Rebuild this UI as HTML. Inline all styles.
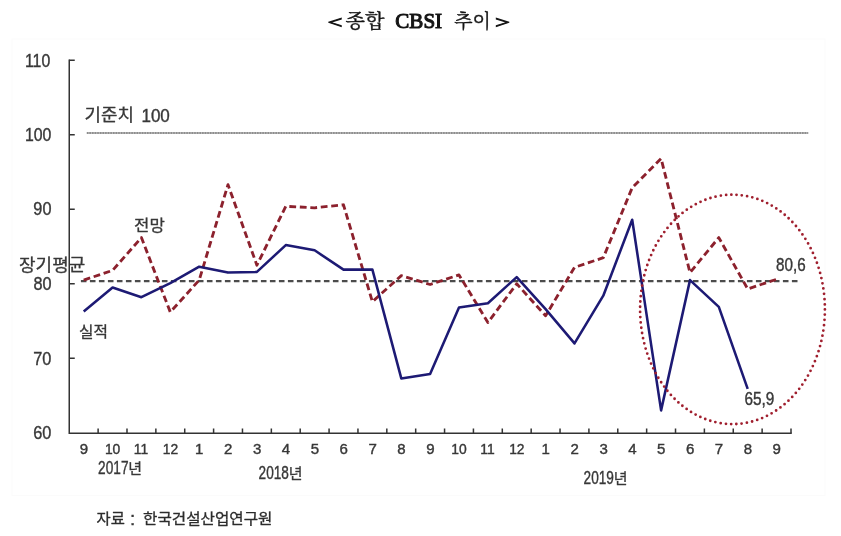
<!DOCTYPE html>
<html lang="ko"><head><meta charset="utf-8"><title>종합 CBSI 추이</title>
<style>html,body{margin:0;padding:0;background:#fff}body{width:841px;height:536px;overflow:hidden;font-family:"Liberation Sans",sans-serif}svg{display:block}text{font-family:"Liberation Sans",sans-serif;fill:#383838;stroke:#383838;stroke-width:.4}.ser{font-family:"Liberation Serif",serif;fill:#151515;stroke:#151515;stroke-width:1.1}.ser2{font-family:"Liberation Serif",serif;fill:#151515;stroke:#151515;stroke-width:1}.k{font-family:"Liberation Sans","Noto Sans CJK KR",sans-serif;fill:#383838;stroke:#383838;stroke-width:.3;stroke-linejoin:round}.ks{font-family:"Liberation Sans","Noto Sans CJK KR",sans-serif;fill:#2c2c2c;stroke:#2c2c2c;stroke-width:.3;stroke-linejoin:round}.kt{font-family:"Liberation Serif","Noto Serif CJK SC","Noto Sans CJK KR",serif;fill:#151515;stroke:#151515;stroke-width:.4;stroke-linejoin:round}</style></head><body>
<svg width="841" height="536" viewBox="0 0 841 536" role="img" aria-label="종합 CBSI 추이">
<defs><filter id="soft" x="0" y="0" width="100%" height="100%" filterUnits="userSpaceOnUse" color-interpolation-filters="sRGB"><feGaussianBlur stdDeviation="0.6"/></filter></defs>
<rect width="841" height="536" fill="#ffffff"/>
<g filter="url(#soft)">
<rect width="841" height="536" fill="#ffffff"/>
<rect x="12" y="39" width="813" height="456.5" fill="#ffffff" stroke="#fbfbfb" stroke-width="1"/>
<g id="title">
<text class="ser2" transform="translate(327.72,27.52) scale(1.536,1)" font-size="16.79">&lt;</text>
<g><text class="kt" x="345.5" y="28" font-size="19.5" textLength="39" lengthAdjust="spacingAndGlyphs">종합</text></g>
<text class="ser" transform="translate(395.34,28.29) scale(0.962,1)" font-size="21.88">CBSI</text>
<g><text class="kt" x="454.2" y="28" font-size="19" textLength="36.7" lengthAdjust="spacingAndGlyphs">추이</text></g>
<text class="ser2" transform="translate(495.19,27.52) scale(1.536,1)" font-size="16.79">&gt;</text>
</g>
<g stroke="#333333" stroke-width="1.5" fill="none">
<path d="M69.25 59.55V433.20H791.75"/>
<path d="M69.25 60.30h5.5M69.25 134.80h5.5M69.25 209.30h5.5M69.25 283.80h5.5M69.25 358.30h5.5M98.12 433.20v-4.6M126.99 433.20v-4.6M155.86 433.20v-4.6M184.73 433.20v-4.6M213.60 433.20v-4.6M242.47 433.20v-4.6M271.34 433.20v-4.6M300.21 433.20v-4.6M329.08 433.20v-4.6M357.95 433.20v-4.6M386.82 433.20v-4.6M415.69 433.20v-4.6M444.56 433.20v-4.6M473.43 433.20v-4.6M502.30 433.20v-4.6M531.17 433.20v-4.6M560.04 433.20v-4.6M588.91 433.20v-4.6M617.78 433.20v-4.6M646.65 433.20v-4.6M675.52 433.20v-4.6M704.39 433.20v-4.6M733.26 433.20v-4.6M762.13 433.20v-4.6M791.00 433.20v-4.6"/>
</g>
<line x1="86.8" y1="133" x2="808.2" y2="133" stroke="#a2a2a2" stroke-width="1.7"/>
<line x1="86.8" y1="133" x2="808.2" y2="133" stroke="#6a6a6a" stroke-opacity=".55" stroke-width="1.8" stroke-dasharray="1.5 1.12"/>
<line x1="80.9" y1="281.2" x2="797.5" y2="281.2" stroke="#4c4c4c" stroke-width="2.3" stroke-dasharray="5.6 3.4"/>
<polyline points="83.7,280.1 112.6,270.4 141.4,237.6 170.3,312.1 199.2,280.1 228,184.7 256.9,265.2 285.8,206.3 314.6,207.8 343.5,204.8 372.4,301.7 401.3,275.6 430.1,284.5 459,274.9 487.9,322.5 516.7,283.8 545.6,315.8 574.5,267.4 603.3,257.7 632.2,187.7 661.1,158.6 690,272.6 718.8,237.6 747.7,289 776.6,279.3" fill="none" stroke="#8c212d" stroke-width="2.85" stroke-dasharray="6.8 3.7" stroke-linejoin="round"/>
<polyline points="83.7,311.4 112.6,287.5 141.4,297.2 170.3,283.1 199.2,266.7 228,272.6 256.9,271.9 285.8,245.1 314.6,250.3 343.5,269.6 372.4,269.6 401.3,378.4 430.1,373.9 459,307.6 487.9,303.2 516.7,277.1 545.6,309.1 574.5,343.4 603.3,295.7 632.2,219.7 661.1,410.4 690,280.1 718.8,306.9 747.7,388.8" fill="none" stroke="#1d1a74" stroke-width="2.55" stroke-linejoin="round"/>
<ellipse cx="732.5" cy="309.4" rx="92.4" ry="114.7" fill="none" stroke="#a01f2e" stroke-width="2.8" stroke-dasharray="0 5.3" stroke-linecap="round"/>
<g id="ylabels">
<text transform="translate(24.99,67.37) scale(0.850,1)" font-size="18.64">110</text>
<text transform="translate(24.99,140.82) scale(0.850,1)" font-size="18.64">100</text>
<text transform="translate(33.34,215.22) scale(0.873,1)" font-size="18.64">90</text>
<text transform="translate(33.4,290.32) scale(0.870,1)" font-size="18.64">80</text>
<text transform="translate(33.26,365.12) scale(0.876,1)" font-size="18.64">70</text>
<text transform="translate(33.27,438.72) scale(0.876,1)" font-size="18.64">60</text>
</g>
<g id="xlabels" font-size="14.3">
<text transform="translate(79.71,453.7) scale(1.05,1)">9</text>
<text transform="translate(104.88,453.7) scale(0.97,1)">10</text>
<text transform="translate(133.82,453.7) scale(0.97,1)">11</text>
<text transform="translate(162.7,453.7) scale(0.97,1)">12</text>
<text transform="translate(194.98,453.7) scale(1.05,1)">1</text>
<text transform="translate(224.06,453.7) scale(1.05,1)">2</text>
<text transform="translate(252.97,453.7) scale(1.05,1)">3</text>
<text transform="translate(281.85,453.7) scale(1.05,1)">4</text>
<text transform="translate(310.68,453.7) scale(1.05,1)">5</text>
<text transform="translate(339.49,453.7) scale(1.05,1)">6</text>
<text transform="translate(368.4,453.7) scale(1.05,1)">7</text>
<text transform="translate(397.28,453.7) scale(1.05,1)">8</text>
<text transform="translate(426.15,453.7) scale(1.05,1)">9</text>
<text transform="translate(451.32,453.7) scale(0.97,1)">10</text>
<text transform="translate(480.26,453.7) scale(0.97,1)">11</text>
<text transform="translate(509.14,453.7) scale(0.97,1)">12</text>
<text transform="translate(541.42,453.7) scale(1.05,1)">1</text>
<text transform="translate(570.5,453.7) scale(1.05,1)">2</text>
<text transform="translate(599.41,453.7) scale(1.05,1)">3</text>
<text transform="translate(628.29,453.7) scale(1.05,1)">4</text>
<text transform="translate(657.12,453.7) scale(1.05,1)">5</text>
<text transform="translate(685.93,453.7) scale(1.05,1)">6</text>
<text transform="translate(714.84,453.7) scale(1.05,1)">7</text>
<text transform="translate(743.72,453.7) scale(1.05,1)">8</text>
<text transform="translate(772.59,453.7) scale(1.05,1)">9</text>
</g>
<text transform="translate(98.11,473.81) scale(0.716,1)" font-size="19.07">2017</text>
<g><text class="k" x="128.3" y="473.8" font-size="15">년</text></g>
<text transform="translate(258.62,479.41) scale(0.714,1)" font-size="19.07">2018</text>
<g><text class="k" x="288.8" y="479.4" font-size="15">년</text></g>
<text transform="translate(583.61,484.41) scale(0.715,1)" font-size="19.07">2019</text>
<g><text class="k" x="613.8" y="484.4" font-size="15">년</text></g>
<g><text class="k" x="84.6" y="121" font-size="16.5" textLength="49.5" lengthAdjust="spacingAndGlyphs">기준치</text></g>
<text transform="translate(141.4,121.72) scale(0.908,1)" font-size="18.79">100</text>
<g><text class="k" x="19" y="271" font-size="16.5" textLength="66.3" lengthAdjust="spacingAndGlyphs">장기평균</text></g>
<g><text class="k" x="134" y="231.3" font-size="15.5" textLength="30.8" lengthAdjust="spacingAndGlyphs">전망</text></g>
<g><text class="k" x="79" y="336.5" font-size="14.5" textLength="29" lengthAdjust="spacingAndGlyphs">실적</text></g>
<text transform="translate(776.04,270.71) scale(0.850,1)" font-size="17.91">80,6</text>
<text transform="translate(744.42,405.32) scale(0.864,1)" font-size="17.79">65,9</text>
<g><text class="ks" x="96.5" y="524.3" font-size="14.5" textLength="28.3" lengthAdjust="spacingAndGlyphs">자료</text></g>
<text transform="translate(130.07,524.6) scale(0.999,1)" font-size="18.93">:</text>
<g><text class="ks" x="143" y="524.3" font-size="14.5" textLength="129.5" lengthAdjust="spacingAndGlyphs">한국건설산업연구원</text></g>
</g>
</svg></body></html>
